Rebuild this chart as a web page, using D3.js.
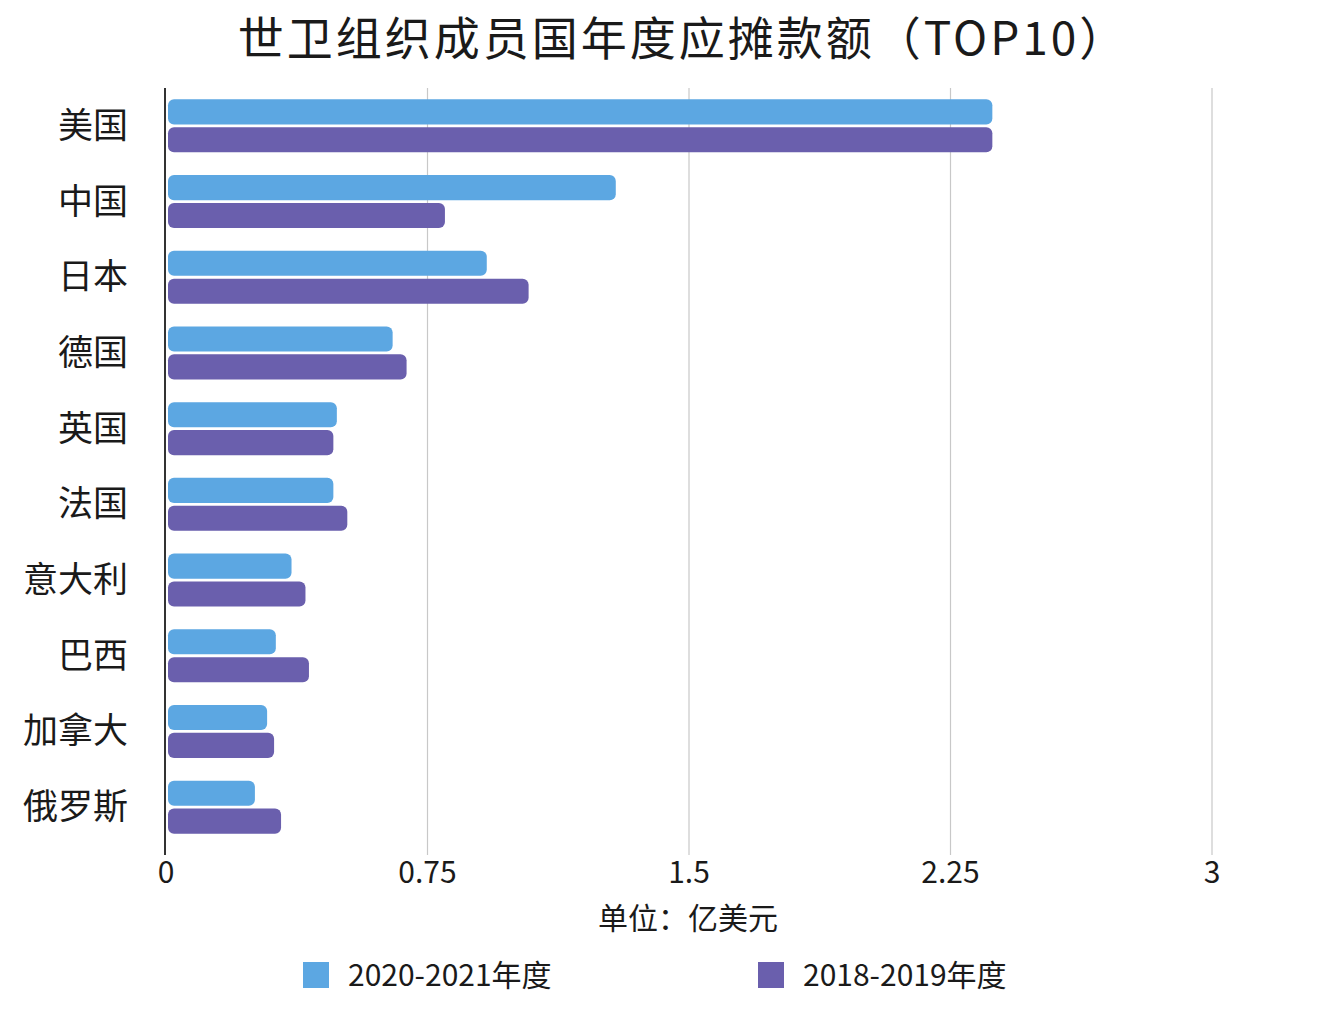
<!DOCTYPE html>
<html><head><meta charset="utf-8">
<script src="https://cdn.jsdelivr.net/npm/d3@7/dist/d3.min.js"></script>
<style>body{margin:0;background:#fff;} text{font-family:"Noto Sans CJK SC","Noto Sans",sans-serif;fill:#1a1a1a;}</style>
</head><body><svg id="c" width="1332" height="1011"></svg>
<script>
const categories = ["美国","中国","日本","德国","英国","法国","意大利","巴西","加拿大","俄罗斯"];
const series2020 = [2.37, 1.29, 0.92, 0.65, 0.49, 0.48, 0.36, 0.315, 0.29, 0.255];
const series2018 = [2.37, 0.80, 1.04, 0.69, 0.48, 0.52, 0.40, 0.41, 0.31, 0.33];
const seriesNames = ["2020-2021年度","2018-2019年度"];
const colors = ["#5ca7e2","#6a5fad"];
const xTicks = [0, 0.75, 1.5, 2.25, 3];
const xTickLabels = ["0","0.75","1.5","2.25","3"];

const svg = d3.select("#c");
const x = d3.scaleLinear().domain([0,3]).range([166,1212]);
const y = d3.scaleBand().domain(categories).range([88,845]).paddingInner(0.3).paddingOuter(0.15);
const sub = d3.scaleBand().domain([0,1]).range([0,y.bandwidth()]).paddingInner(0.1);

svg.append("text").attr("x",683).attr("y",55).attr("text-anchor","middle")
  .attr("font-size",46).attr("letter-spacing",3).text("世卫组织成员国年度应摊款额（TOP10）");

// grid
svg.append("g").selectAll("line").data(xTicks.slice(1)).join("line")
  .attr("x1",d=>x(d)).attr("x2",d=>x(d)).attr("y1",88).attr("y2",855)
  .attr("stroke","#c8c8c8").attr("stroke-width",1.2);

const data = categories.map((c,i)=>({c, v:[series2020[i], series2018[i]]}));
const g = svg.append("g").selectAll("g").data(data).join("g")
  .attr("transform",d=>`translate(0,${y(d.c)})`);
g.selectAll("rect").data(d=>d.v).join("rect")
  .attr("x",x(0)+2).attr("y",(d,i)=>sub(i)).attr("height",sub.bandwidth())
  .attr("width",d=>x(d)-x(0)-2).attr("rx",6).attr("fill",(d,i)=>colors[i]);

// axis line
svg.append("line").attr("x1",165).attr("x2",165).attr("y1",88).attr("y2",855)
  .attr("stroke","#333").attr("stroke-width",2);

// y labels
svg.append("g").selectAll("text").data(categories).join("text")
  .attr("x",128).attr("y",d=>y(d)+y.bandwidth()/2+12).attr("text-anchor","end")
  .attr("font-size",35).text(d=>d);

// x ticks
svg.append("g").selectAll("text").data(xTicks).join("text")
  .attr("x",d=>x(d)).attr("y",883).attr("text-anchor","middle")
  .attr("font-size",30)
  .text((d,i)=>xTickLabels[i]);

svg.append("text").attr("x",688).attr("y",929).attr("text-anchor","middle")
  .attr("font-size",30).text("单位：亿美元");

// legend
const lx = [303, 758];
const lg = svg.append("g").selectAll("g").data(seriesNames).join("g")
  .attr("transform",(d,i)=>`translate(${lx[i]},962)`);
lg.append("rect").attr("width",26).attr("height",26).attr("fill",(d,i)=>colors[i]);
lg.append("text").attr("x",45).attr("y",24).attr("font-size",30).text(d=>d);
</script></body></html>
